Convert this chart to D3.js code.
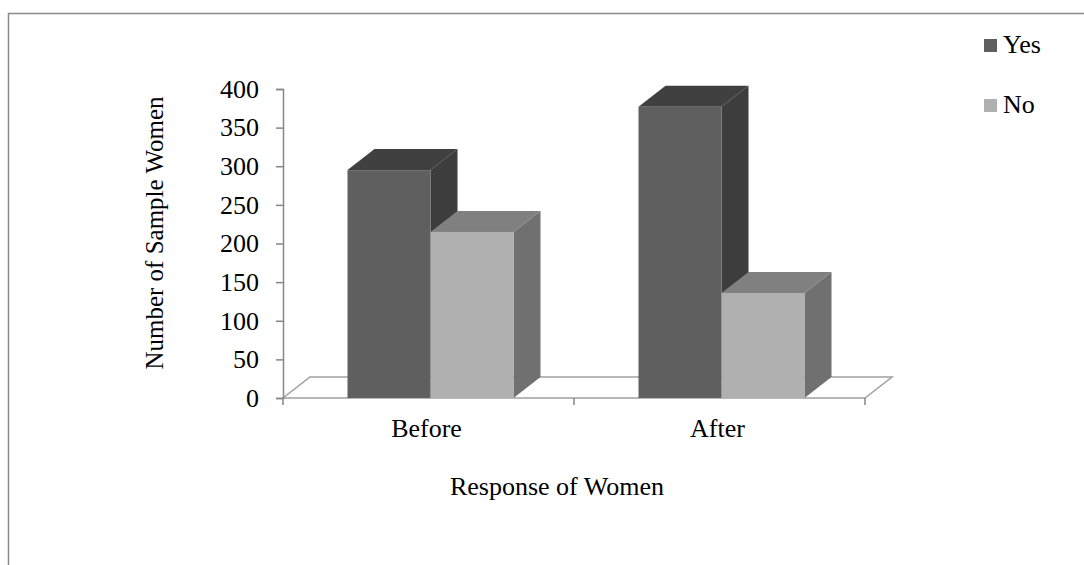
<!DOCTYPE html>
<html>
<head>
<meta charset="utf-8">
<script src="https://cdn.jsdelivr.net/npm/d3@7"></script>
<style>
  body { margin: 0; background: #fff; }
  svg text { font-family: "Liberation Serif", "Times New Roman", serif; fill: #000; }
</style>
</head>
<body>
<svg id="chart"></svg>
<script>
var categories = ["Before", "After"];
var seriesNames = ["Yes", "No"];
var yesValues = [295, 377];
var noValues = [215, 136];
var yTicks = [0, 50, 100, 150, 200, 250, 300, 350, 400];

var width = 1084, height = 565;
var depth = { dx: 27, dy: -21 };
var serif = "'Liberation Serif', 'Times New Roman', serif";
var colors = {
    Yes: { front: "#5f5f5f", top: "#404040", side: "#3d3d3d" },
    No:  { front: "#b0b0b0", top: "#808080", side: "#707070" }
};

var svg = d3.select("#chart")
            .attr("width", width)
            .attr("height", height);

// frame (left and top edges only)
svg.append("path")
   .attr("d", "M8.5," + height + " V13.5 H" + width)
   .attr("fill", "none")
   .attr("stroke", "#8a8a8a")
   .attr("stroke-width", 1.5);

var y = d3.scaleLinear().domain([0, 400]).range([398, 89]);
var x = d3.scaleBand().domain(categories).range([283, 865]);
var xs = d3.scaleBand().domain(seriesNames).range([2, x.bandwidth() + 2]).paddingOuter(0.753);

// floor
var x0 = x.range()[0], x1 = x.range()[1], yb = y(0);
svg.append("path")
   .attr("d", "M" + x0 + "," + yb + " L" + x1 + "," + yb +
              " L" + (x1 + depth.dx) + "," + (yb + depth.dy) +
              " L" + (x0 + depth.dx) + "," + (yb + depth.dy) + " Z")
   .attr("fill", "#fff")
   .attr("stroke", "#a0a0a0")
   .attr("stroke-width", 1.5);

// y axis
var yAxis = svg.append("g")
   .attr("transform", "translate(" + x0 + ",0)")
   .call(d3.axisLeft(y).tickValues(yTicks).tickSize(7).tickPadding(17));
yAxis.select(".domain").attr("stroke", "#868686").attr("stroke-width", 1.5);
yAxis.selectAll(".tick line").attr("stroke", "#868686").attr("stroke-width", 1.5);
yAxis.selectAll(".tick text")
     .style("font-size", "26px")
     .style("font-family", serif)
     .attr("fill", "#000");

// x axis ticks on floor front edge
var xTickPos = [x0].concat(categories.map(function(c) { return x(c) + x.bandwidth(); }));
svg.selectAll(".xtick")
   .data(xTickPos)
   .enter()
   .append("line")
   .attr("x1", function(d) { return d; })
   .attr("x2", function(d) { return d; })
   .attr("y1", yb)
   .attr("y2", yb + 7)
   .attr("stroke", "#868686")
   .attr("stroke-width", 1.5);

svg.selectAll(".xlabel")
   .data(categories)
   .enter()
   .append("text")
   .attr("x", function(d) { return x(d) + x.bandwidth() / 2 - 2; })
   .attr("y", 437)
   .attr("text-anchor", "middle")
   .style("font-size", "26px")
   .style("font-family", serif)
   .text(function(d) { return d; });

// bars
var bars = [];
categories.forEach(function(c, i) {
    bars.push({ cat: c, series: "Yes", value: yesValues[i] });
    bars.push({ cat: c, series: "No", value: noValues[i] });
});

var g = svg.append("g");
bars.forEach(function(b) {
    var bx = x(b.cat) + xs(b.series);
    var bw = xs.bandwidth();
    var top = y(b.value);
    var c = colors[b.series];
    // side face
    g.append("path")
     .attr("d", "M" + (bx + bw) + "," + yb + " L" + (bx + bw) + "," + top +
                " L" + (bx + bw + depth.dx) + "," + (top + depth.dy) +
                " L" + (bx + bw + depth.dx) + "," + (yb + depth.dy) + " Z")
     .attr("fill", c.side);
    // top face
    g.append("path")
     .attr("d", "M" + bx + "," + top + " L" + (bx + bw) + "," + top +
                " L" + (bx + bw + depth.dx) + "," + (top + depth.dy) +
                " L" + (bx + depth.dx) + "," + (top + depth.dy) + " Z")
     .attr("fill", c.top);
    // front face
    g.append("rect")
     .attr("x", bx)
     .attr("y", top)
     .attr("width", bw)
     .attr("height", yb - top)
     .attr("fill", c.front);
});

// axis titles
svg.append("text")
   .attr("transform", "translate(163,233) rotate(-90)")
   .attr("text-anchor", "middle")
   .style("font-size", "25px")
   .style("font-family", serif)
   .text("Number of Sample Women");

svg.append("text")
   .attr("x", 557)
   .attr("y", 495)
   .attr("text-anchor", "middle")
   .style("font-size", "26px")
   .style("font-family", serif)
   .text("Response of Women");

// legend
var legend = svg.selectAll(".legend")
   .data(seriesNames)
   .enter()
   .append("g")
   .attr("transform", function(d, i) { return "translate(984," + (39 + i * 60) + ")"; });
legend.append("rect")
   .attr("width", 13)
   .attr("height", 13)
   .attr("fill", function(d) { return colors[d].front; });
legend.append("text")
   .attr("x", 19)
   .attr("y", 14)
   .style("font-size", "26px")
   .style("font-family", serif)
   .text(function(d) { return d; });
</script>
</body>
</html>
